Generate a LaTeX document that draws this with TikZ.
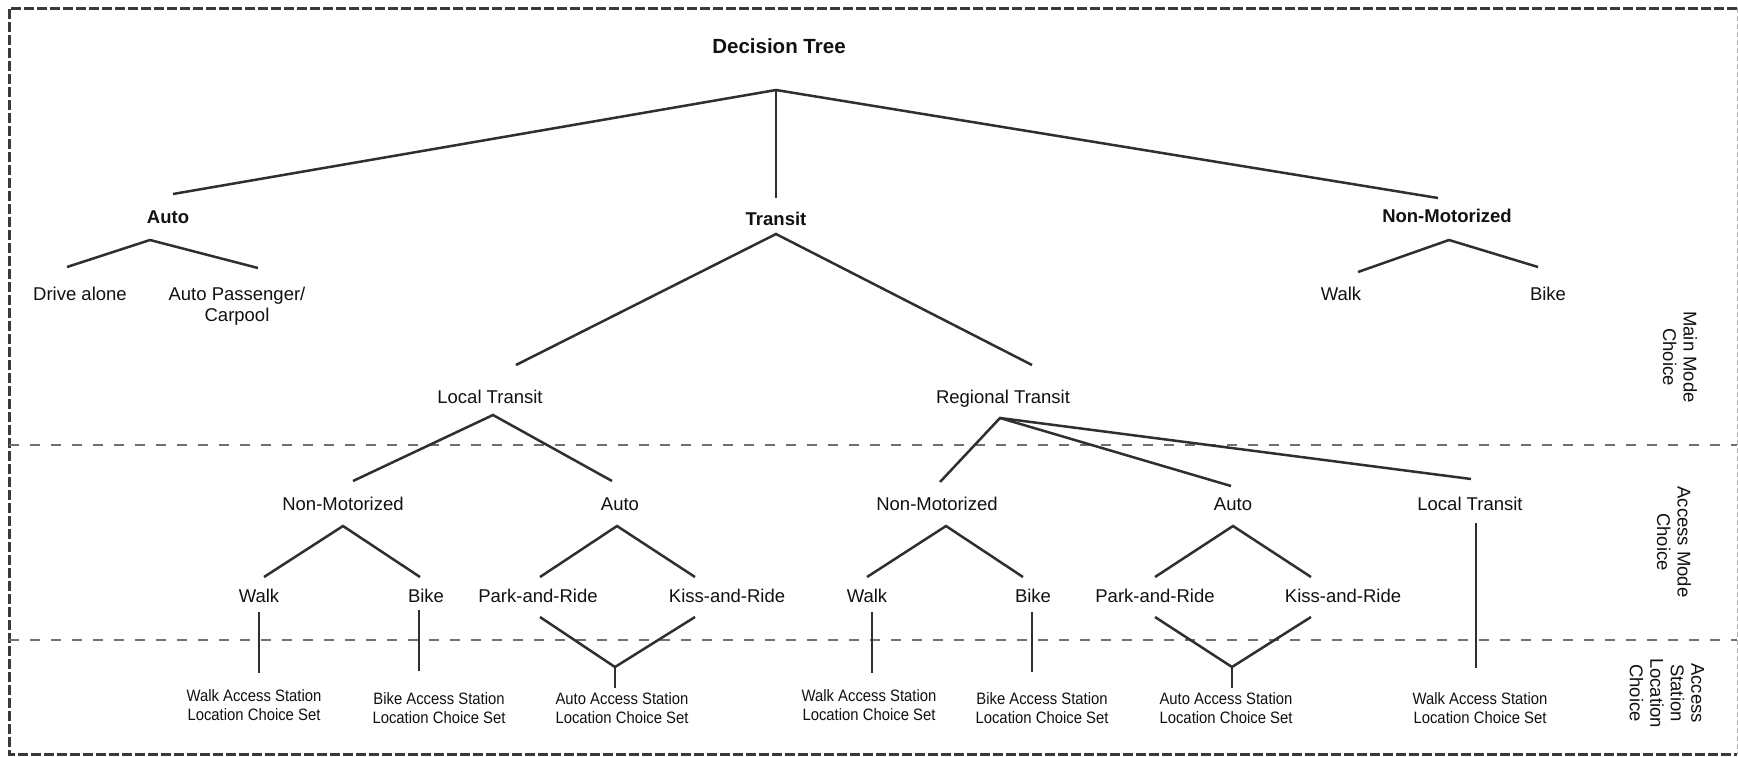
\documentclass[tikz,border=0pt]{standalone}
\usepackage{fontspec}
\setmainfont{Liberation Sans}
\newfontfamily\narrowfont{Liberation Sans}[FakeStretch=0.9]
\definecolor{ink}{HTML}{2F2F2F}
\definecolor{txt}{HTML}{111111}
\definecolor{framecol}{HTML}{3A3A3A}
\definecolor{bandcol}{HTML}{707070}
\definecolor{edgecol}{HTML}{B0B0B0}

\tikzset{
  lbl/.style={inner sep=0pt, text height=13.3pt, text depth=0pt, text=txt,
              font=\fontsize{18.5}{21}\selectfont},
  blbl/.style={lbl, font=\fontsize{18.5}{21}\selectfont\bfseries},
  heading/.style={inner sep=0pt, text height=14.7pt, text depth=0pt, text=txt,
              font=\fontsize{20.5}{24}\selectfont\bfseries},
  twoline/.style={inner sep=0pt, align=center, text=txt,
              font=\fontsize{18.5}{21}\selectfont},
  choiceset/.style={inner sep=0pt, align=center, text=txt,
              font=\narrowfont\fontsize{16.5}{19}\selectfont},
  side/.style={inner sep=0pt, align=center, rotate=-90, text=txt,
              font=\fontsize{18.5}{20.5}\selectfont},
  branch/.style={draw=ink, line width=2.5pt},
  framing/.style={draw=framecol, line width=3pt, dash pattern=on 10pt off 3pt},
  framingright/.style={draw=edgecol, line width=1pt, dash pattern=on 5pt off 3pt},
  band/.style={draw=bandcol, line width=1.5pt, dash pattern=on 10pt off 11pt}
}

\begin{document}
\begin{tikzpicture}[x=1pt,y=-1pt]
\useasboundingbox (0,0) rectangle (1738,756);
\fill[white] (0,0) rectangle (1738,756);

% outer frame and level separators
\draw[framing] (1737,8) -- (9,8) -- (9,754) -- (1737,754);
\draw[framingright] (1737,8) -- (1737,754);
\draw[band] (9,445) -- (1737,445);
\draw[band] (9,640) -- (1737,640);

% level labels
\node[side] (mainlvl) at (1680,357) {Main Mode\\Choice};
\node[side] (accesslvl) at (1674,542) {Access Mode\\Choice};
\node[side] (stationlvl) at (1667,693) {Access\\Station\\Location\\Choice};

% ---------- main mode ----------
\node[heading] (dt) at (779,46) {Decision Tree};
\coordinate (rootA) at (776,90);

\node[blbl] (auto) at (168,217) {Auto};
\node[blbl] (transit) at (776,219) {Transit};
\node[blbl] (nonmot) at (1447,216) {Non-Motorized};
\coordinate (autoT) at (173,194);
\coordinate (transitT) at (776,198);
\coordinate (nonmotT) at (1438,198);
\draw[branch] (autoT) -- (rootA) -- (nonmotT);
\draw[branch] (rootA) -- (transitT);

% auto
\coordinate (autoA) at (150,240);
\coordinate (driveT) at (67,267);
\coordinate (passT) at (258,268);
\node[lbl] (drive) at (80,294) {Drive alone};
\node[twoline] (pass) at (237,306) {Auto Passenger/\\Carpool};
\draw[branch] (driveT) -- (autoA) -- (passT);

% non-motorized
\coordinate (nonmotA) at (1449,240);
\coordinate (nmwalkT) at (1358,272);
\coordinate (nmbikeT) at (1538,267);
\node[lbl] (nmwalk) at (1341,294) {Walk};
\node[lbl] (nmbike) at (1548,294) {Bike};
\draw[branch] (nmwalkT) -- (nonmotA) -- (nmbikeT);

% transit
\coordinate (transitA) at (776,234);
\coordinate (localT) at (516,365);
\coordinate (regT) at (1032,365);
\draw[branch] (localT) -- (transitA) -- (regT);
\node[lbl] (local) at (490,397) {Local Transit};
\node[lbl] (reg) at (1003,397) {Regional Transit};

% ---------- access mode ----------
\coordinate (localA) at (493,415);
\coordinate (lnmT) at (353,481);
\coordinate (lautoT) at (612,481);
\draw[branch] (lnmT) -- (localA) -- (lautoT);

\coordinate (regA) at (1000,418);
\coordinate (rnmT) at (940,482);
\coordinate (rautoT) at (1231,486);
\coordinate (rltT) at (1471,479);
\draw[branch] (rnmT) -- (regA) -- (rautoT);
\draw[branch] (regA) -- (rltT);

\node[lbl] (lnm) at (343,504) {Non-Motorized};
\node[lbl] (lauto) at (620,504) {Auto};
\node[lbl] (rnm) at (937,504) {Non-Motorized};
\node[lbl] (rauto) at (1233,504) {Auto};
\node[lbl] (rlt) at (1470,504) {Local Transit};

\coordinate (lnmA) at (343,526);
\coordinate (lwalkT) at (264,577);
\coordinate (lbikeT) at (420,577);
\draw[branch] (lwalkT) -- (lnmA) -- (lbikeT);

\coordinate (lautoA) at (617,526);
\coordinate (lprT) at (540,577);
\coordinate (lkrT) at (695,577);
\draw[branch] (lprT) -- (lautoA) -- (lkrT);

\coordinate (rnmA) at (946,526);
\coordinate (rwalkT) at (867,577);
\coordinate (rbikeT) at (1023,577);
\draw[branch] (rwalkT) -- (rnmA) -- (rbikeT);

\coordinate (rautoA) at (1233,526);
\coordinate (rprT) at (1155,577);
\coordinate (rkrT) at (1311,577);
\draw[branch] (rprT) -- (rautoA) -- (rkrT);

\node[lbl] (lwalk) at (259,596) {Walk};
\node[lbl] (lbike) at (426,596) {Bike};
\node[lbl] (lpr) at (538,596) {Park-and-Ride};
\node[lbl] (lkr) at (727,596) {Kiss-and-Ride};
\node[lbl] (rwalk) at (867,596) {Walk};
\node[lbl] (rbike) at (1033,596) {Bike};
\node[lbl] (rpr) at (1155,596) {Park-and-Ride};
\node[lbl] (rkr) at (1343,596) {Kiss-and-Ride};

% ---------- access station location ----------
\coordinate (lwalkA) at (259,612);
\coordinate (lwalkB) at (259,673);
\coordinate (lbikeA) at (419,610);
\coordinate (lbikeB) at (419,671);
\coordinate (rwalkA) at (872,612);
\coordinate (rwalkB) at (872,673);
\coordinate (rbikeA) at (1032,612);
\coordinate (rbikeB) at (1032,672);
\coordinate (rltA) at (1476,523);
\coordinate (rltB) at (1476,668);
\draw[branch] (lwalkA) -- (lwalkB);
\draw[branch] (lbikeA) -- (lbikeB);
\draw[branch] (rwalkA) -- (rwalkB);
\draw[branch] (rbikeA) -- (rbikeB);
\draw[branch] (rltA) -- (rltB);

\coordinate (lprB) at (540,617);
\coordinate (lkrB) at (695,617);
\coordinate (lmerge) at (615,667);
\coordinate (lstem) at (615,688);
\draw[branch] (lprB) -- (lmerge) -- (lkrB);
\draw[branch] (lmerge) -- (lstem);

\coordinate (rprB) at (1155,617);
\coordinate (rkrB) at (1311,617);
\coordinate (rmerge) at (1232,667);
\coordinate (rstem) at (1232,688);
\draw[branch] (rprB) -- (rmerge) -- (rkrB);
\draw[branch] (rmerge) -- (rstem);

\node[choiceset] (lwalkS) at (254,705.5) {Walk Access Station\\Location Choice Set};
\node[choiceset] (lbikeS) at (439,708) {Bike Access Station\\Location Choice Set};
\node[choiceset] (lautoS) at (622,708) {Auto Access Station\\Location Choice Set};
\node[choiceset] (rwalkS) at (869,705.5) {Walk Access Station\\Location Choice Set};
\node[choiceset] (rbikeS) at (1042,708) {Bike Access Station\\Location Choice Set};
\node[choiceset] (rautoS) at (1226,708) {Auto Access Station\\Location Choice Set};
\node[choiceset] (rltS) at (1480,708) {Walk Access Station\\Location Choice Set};
\end{tikzpicture}
\end{document}
